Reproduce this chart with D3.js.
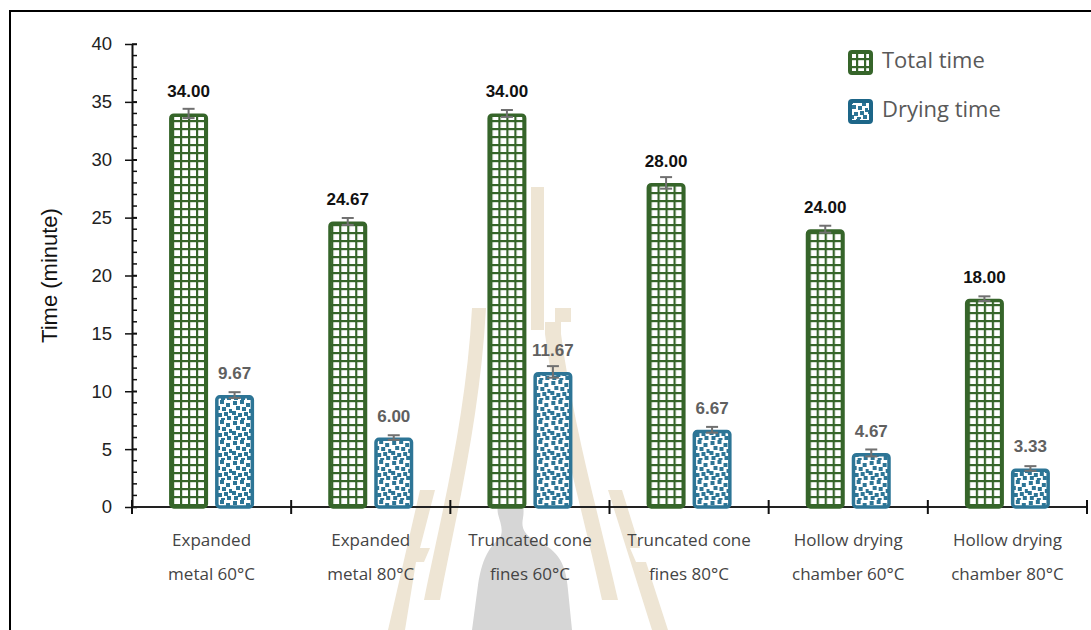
<!DOCTYPE html>
<html>
<head>
<meta charset="utf-8">
<script src="https://cdn.jsdelivr.net/npm/d3@7"></script>
<style>
  html, body { margin: 0; padding: 0; background: #fff; }
  svg { display: block; }
</style>
</head>
<body>
<svg id="chart" width="1091" height="630"></svg>
<script>
// ---- data -------------------------------------------------------------
const categories = [
  "Expanded metal 60°C",
  "Expanded metal 80°C",
  "Truncated cone fines 60°C",
  "Truncated cone fines 80°C",
  "Hollow drying chamber 60°C",
  "Hollow drying chamber 80°C"
];
const categoryLines = [
  ["Expanded", "metal 60°C"],
  ["Expanded", "metal 80°C"],
  ["Truncated cone", "fines 60°C"],
  ["Truncated cone", "fines 80°C"],
  ["Hollow drying", "chamber 60°C"],
  ["Hollow drying", "chamber 80°C"]
];
const seriesNames = ["Total time", "Drying time"];
const totalTime   = [34.00, 24.67, 34.00, 28.00, 24.00, 18.00];
const dryingTime  = [9.67, 6.00, 11.67, 6.67, 4.67, 3.33];
const totalError  = [0.4, 0.3, 0.3, 0.5, 0.3, 0.2];
const dryingError = [0.25, 0.2, 0.5, 0.25, 0.3, 0.2];
const yTicks = [0, 5, 10, 15, 20, 25, 30, 35, 40];
const yTitle = "Time (minute)";

// ---- styling ----------------------------------------------------------
const GREEN = "#36652a";
const BLUE = "#2d7596";
const svg = d3.select("#chart");
const defs = svg.append("defs");

// large grid fill for the total-time bars
const grid = defs.append("pattern").attr("id", "grid")
  .attr("patternUnits", "userSpaceOnUse").attr("width", 8).attr("height", 8);
grid.append("rect").attr("width", 8).attr("height", 8).attr("fill", "#fff");
grid.append("rect").attr("width", 2.2).attr("height", 8).attr("fill", GREEN);
grid.append("rect").attr("width", 8).attr("height", 2.2).attr("fill", GREEN);

// confetti fill for the drying-time bars
const conf = defs.append("pattern").attr("id", "confetti")
  .attr("patternUnits", "userSpaceOnUse").attr("width", 20).attr("height", 20);
conf.append("rect").attr("width", 20).attr("height", 20).attr("fill", "#fff");
[[1,1],[8,0],[14,3],[4,6],[10,7],[17,9],[0,11],[6,13],[12,12],[2,16],[9,18],[15,16]]
  .forEach(([px, py]) => conf.append("rect").attr("x", px).attr("y", py)
    .attr("width", 4).attr("height", 4).attr("fill", BLUE));

// ---- watermark drawn behind the plot ----------------------------------
const wm = svg.append("g").attr("class", "watermark");
const TAN = "#eee5d4";
wm.append("path").attr("fill", TAN)
  .attr("d", "M531,187 L544,187 L544,330 L531,330 Z");
wm.append("path").attr("fill", TAN)
  .attr("d", "M472,308 L486,308 C480,420 455,520 440,600 L424,600 C440,520 466,420 472,308 Z");
wm.append("path").attr("fill", TAN)
  .attr("d", "M555,308 L571,308 L571,322 L561,322 L561,334 C574,430 600,520 618,600 L602,600 C585,520 556,420 545,334 L545,322 L555,322 Z");
wm.append("path").attr("fill", TAN)
  .attr("d", "M420,490 L435,490 L420,548 L430,548 L424,562 L416,562 L405,630 L388,630 Z");
wm.append("path").attr("fill", TAN)
  .attr("d", "M608,490 L622,490 L640,548 L630,548 L636,562 L646,562 L668,630 L652,630 Z");
wm.append("path").attr("fill", "#d6d6d6")
  .attr("d", "M510,496 C522,496 525,506 523,518 C521,528 524,534 534,540 C555,548 566,560 568,590 L572,630 L472,630 L478,585 C482,560 488,548 500,538 C504,530 500,522 498,514 C496,502 500,496 510,496 Z");

// ---- frame ------------------------------------------------------------
svg.append("rect").attr("x", 10).attr("y", 11).attr("width", 1100).attr("height", 640)
  .attr("fill", "none").attr("stroke", "#000").attr("stroke-width", 2);

// ---- scales -----------------------------------------------------------
const plotLeft = 132, plotRight = 1087, plotTop = 44, plotBottom = 507;
const y = d3.scaleLinear().domain([0, 40]).range([plotBottom, plotTop]);
const x0 = d3.scaleBand().domain(categories).range([plotLeft, plotRight]).padding(0);
const x1 = d3.scaleBand().domain(seriesNames)
  .range([x0.bandwidth() / 2 - 42.5, x0.bandwidth() / 2 + 42.5]).paddingInner(0.152);

// ---- axes -------------------------------------------------------------
const yAxis = svg.append("g").attr("transform", `translate(${plotLeft},0)`);
// minor ticks (every minute) on the inner side
yAxis.selectAll("line.minor").data(d3.range(0, 41, 1)).join("line")
  .attr("class", "minor").attr("x1", 0).attr("x2", 5)
  .attr("y1", d => y(d)).attr("y2", d => y(d))
  .attr("stroke", "#111").attr("stroke-width", 1.5);
yAxis.call(d3.axisLeft(y).tickValues(yTicks).tickSize(7).tickSizeOuter(0).tickPadding(13))
  .call(g => g.select(".domain").attr("stroke", "#111").attr("stroke-width", 2))
  .call(g => g.selectAll(".tick line").attr("stroke", "#111").attr("stroke-width", 1.5).attr("x2", -7)
      .clone().attr("x2", 5))
  .call(g => g.selectAll(".tick text").attr("font-family", "Liberation Sans, Arial, sans-serif")
      .attr("font-size", 18.5).attr("fill", "#222"));

svg.append("text")
  .attr("transform", `translate(57,${(plotTop + plotBottom) / 2}) rotate(-90)`)
  .attr("text-anchor", "middle")
  .attr("font-family", "Liberation Sans, Arial, sans-serif")
  .attr("font-size", 22).attr("fill", "#111").text(yTitle);

// x axis with ticks at category boundaries
const xAxis = svg.append("g");
xAxis.append("line").attr("x1", plotLeft).attr("x2", plotRight)
  .attr("y1", plotBottom).attr("y2", plotBottom)
  .attr("stroke", "#222").attr("stroke-width", 2);
const bounds = categories.map(c => x0(c)).concat([plotRight]);
xAxis.selectAll("line.tick").data(bounds).join("line")
  .attr("class", "tick")
  .attr("x1", d => d).attr("x2", d => d)
  .attr("y1", plotBottom - 7).attr("y2", plotBottom + 7)
  .attr("stroke", "#111").attr("stroke-width", 2);

const xl = xAxis.selectAll("text.cat").data(categories).join("text")
  .attr("class", "cat")
  .attr("text-anchor", "middle")
  .attr("font-family", "Open Sans, sans-serif")
  .attr("font-size", 17).attr("fill", "#444")
  .attr("x", d => x0(d) + x0.bandwidth() / 2);
xl.selectAll("tspan").data((d, i) => categoryLines[i]).join("tspan")
  .attr("x", function () { return d3.select(this.parentNode).attr("x"); })
  .attr("y", (d, i) => 546 + i * 34)
  .text(d => d);

// ---- bars -------------------------------------------------------------
const rows = categories.map((c, i) => ({
  cat: c,
  items: [
    { s: seriesNames[0], v: totalTime[i], e: totalError[i], fill: "url(#grid)", stroke: GREEN, label: "#111" },
    { s: seriesNames[1], v: dryingTime[i], e: dryingError[i], fill: "url(#confetti)", stroke: BLUE, label: "#606060" }
  ]
}));

const groups = svg.append("g").selectAll("g").data(rows).join("g")
  .attr("transform", d => `translate(${x0(d.cat)},0)`);

const sw = 3.5;
groups.selectAll("rect.bar").data(d => d.items).join("rect")
  .attr("class", "bar")
  .attr("x", d => x1(d.s) + sw / 2)
  .attr("width", x1.bandwidth() - sw)
  .attr("y", d => y(d.v) + sw / 2)
  .attr("height", d => y(0) - y(d.v) - sw / 2)
  .attr("rx", 3)
  .attr("fill", d => d.fill)
  .attr("stroke", d => d.stroke)
  .attr("stroke-width", sw);

// error bars
const eb = groups.selectAll("g.err").data(d => d.items).join("g").attr("class", "err")
  .attr("stroke", "#707070").attr("stroke-width", 2);
eb.append("line")
  .attr("x1", d => x1(d.s) + x1.bandwidth() / 2).attr("x2", d => x1(d.s) + x1.bandwidth() / 2)
  .attr("y1", d => y(d.v + d.e)).attr("y2", d => y(d.v - d.e));
eb.append("line")
  .attr("x1", d => x1(d.s) + x1.bandwidth() / 2 - 6).attr("x2", d => x1(d.s) + x1.bandwidth() / 2 + 6)
  .attr("y1", d => y(d.v + d.e)).attr("y2", d => y(d.v + d.e));
eb.append("line")
  .attr("x1", d => x1(d.s) + x1.bandwidth() / 2 - 6).attr("x2", d => x1(d.s) + x1.bandwidth() / 2 + 6)
  .attr("y1", d => y(d.v - d.e)).attr("y2", d => y(d.v - d.e));

// value labels
groups.selectAll("text.val").data(d => d.items).join("text")
  .attr("class", "val")
  .attr("x", d => x1(d.s) + x1.bandwidth() / 2)
  .attr("y", d => y(d.v) - 16)
  .attr("text-anchor", "middle")
  .attr("font-family", "Liberation Sans, Arial, sans-serif")
  .attr("font-weight", "bold").attr("font-size", 17)
  .attr("fill", d => d.label)
  .text(d => d.v.toFixed(2));

// ---- legend -----------------------------------------------------------
const legend = svg.append("g").attr("transform", "translate(848,50)");
const legendItems = [
  { name: seriesNames[0], fill: "url(#grid)", stroke: GREEN },
  { name: seriesNames[1], fill: "url(#confetti)", stroke: "#1d6688" }
];
const li = legend.selectAll("g").data(legendItems).join("g")
  .attr("transform", (d, i) => `translate(0,${i * 49})`);
li.append("rect").attr("x", 2).attr("y", 2).attr("width", 21).attr("height", 21).attr("rx", 2)
  .attr("fill", d => d.fill).attr("stroke", d => d.stroke).attr("stroke-width", 4);
li.append("text").attr("x", 34).attr("y", 18)
  .attr("font-family", "Open Sans, sans-serif").attr("font-size", 22)
  .attr("fill", "#595959").text(d => d.name);
</script>
</body>
</html>
